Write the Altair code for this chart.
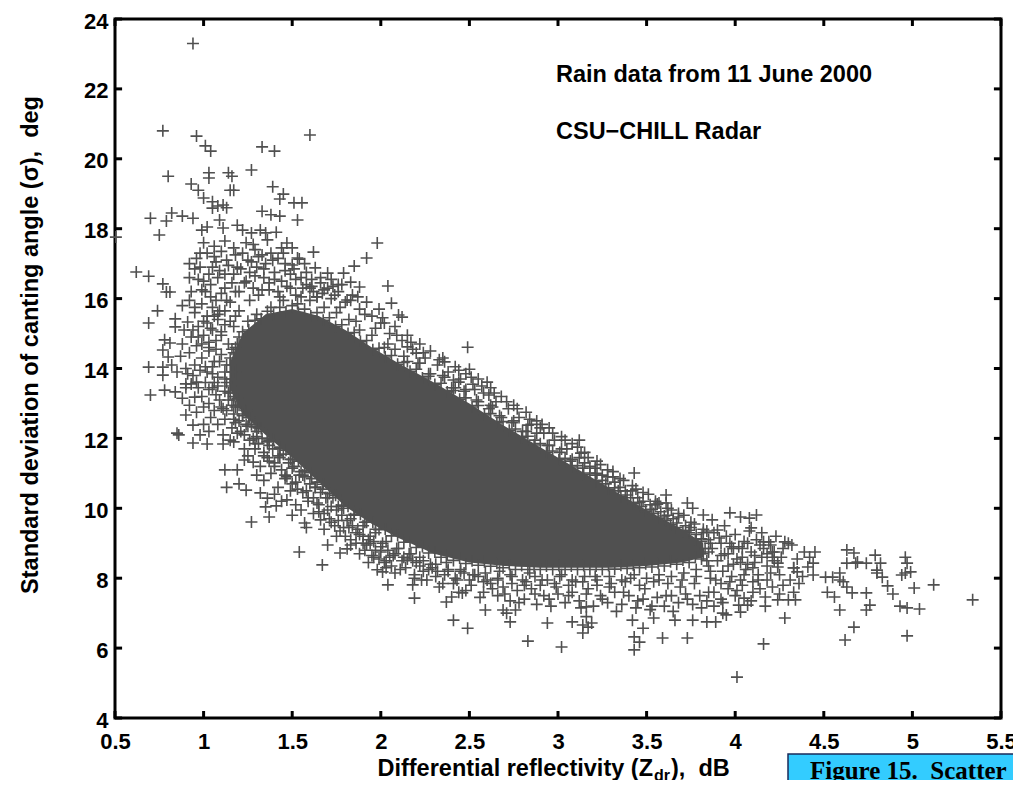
import altair as alt
import pandas as pd

# ---------------- data ----------------
x_ticks = [0.5, 1, 1.5, 2, 2.5, 3, 3.5, 4, 4.5, 5, 5.5]
y_ticks = [4, 6, 8, 10, 12, 14, 16, 18, 20, 22, 24]

NB = "\u00a0"
annotation_lines = ["Rain data from 11 June 2000", "CSU\u2212CHILL Radar"]
x_title_parts = ["Differential reflectivity (Z", "dr", ")," + NB + NB + "dB"]
y_title = "Standard deviation of canting angle (\u03c3)," + NB + NB + "deg"
caption = "Figure 15." + NB + NB + "Scatter"

# saturated core of the cloud (upper / lower edge of the solid region)
core_zdr = [1.15, 1.22, 1.35, 1.50, 1.65, 1.80, 1.95, 2.10, 2.30, 2.50, 2.70, 2.90, 3.10, 3.30,
            3.50, 3.70, 3.82]
core_hi = [14.2, 15.0, 15.55, 15.7, 15.5, 15.1, 14.6, 14.15, 13.6, 13.0, 12.35, 11.75, 11.15, 10.55,
           9.95, 9.4, 9.0]
core_lo = [13.4, 12.7, 12.1, 11.45, 10.75, 10.05, 9.55, 9.15, 8.7, 8.45, 8.35, 8.3, 8.3, 8.3,
           8.35, 8.45, 8.6]

outliers_top = [
    (0.94, 23.3), (0.77, 20.8), (0.96, 20.65), (1.01, 20.37), (1.04, 20.22), (1.33, 20.34), (1.40, 20.22),
    (1.60, 20.68), (0.80, 19.5), (1.03, 19.6), (1.03, 19.45), (1.14, 19.6), (1.16, 19.5), (1.27, 19.68),
    (0.93, 19.28), (0.97, 19.1), (1.15, 19.1), (1.17, 19.1), (1.39, 19.2), (1.45, 18.99), (1.43, 18.85),
    (1.51, 18.74), (1.555, 18.74), (1.0, 18.88), (1.05, 18.77), (1.05, 18.59), (1.08, 18.65), (1.11, 18.68),
    (1.13, 18.6), (0.70, 18.3), (0.79, 18.22), (0.82, 18.45), (0.88, 18.36), (0.94, 18.3), (0.75, 17.82),
    (0.505, 17.76), (1.33, 18.5), (1.38, 18.4), (1.43, 18.36), (1.53, 18.25), (1.62, 17.33), (1.09, 18.25),
    (1.11, 18.02), (1.02, 18.05), (0.99, 17.96), (1.19, 18.1), (1.22, 17.96), (1.27, 17.88), (1.32, 17.96),
    (1.35, 17.88), (1.41, 17.9), (1.36, 17.68), (1.47, 17.59), (1.50, 17.45), (1.53, 17.16), (1.98, 17.59),
    (1.92, 17.16), (1.85, 16.93), (1.79, 16.73), (1.70, 16.73), (1.63, 16.88), (1.54, 17.13), (1.50, 16.96),
    (2.04, 16.36), (2.06, 15.87), (2.10, 15.53), (2.0, 15.3), (1.83, 16.47), (1.88, 16.33), (1.87, 16.05),
    (1.81, 15.96), (2.12, 15.47), (2.49, 14.61), (2.50, 13.98), (2.60, 13.61), (2.61, 13.24), (2.53, 13.4),
    (2.15, 14.62), (2.20, 14.44), (2.36, 14.19), (2.41, 13.67), (2.44, 13.61), (2.63, 12.9), (2.83, 12.38),
    (2.90, 12.3), (3.12, 11.95), (3.13, 11.58), (3.21, 11.15), (3.31, 10.9), (3.43, 11.01), (3.61, 10.38),
    (3.61, 10.15), (3.56, 10.12), (3.73, 10.15), (3.76, 10.0), (3.82, 9.81), (3.87, 9.67), (3.90, 9.38),
]

outliers_left = [
    (0.62, 16.76), (0.69, 16.64), (0.77, 16.42), (0.79, 16.19), (0.81, 16.19), (0.74, 15.65), (0.69, 15.3),
    (0.84, 15.42), (0.84, 15.19), (0.91, 15.33), (0.94, 15.1), (0.78, 14.82), (0.81, 14.73), (0.77, 14.53),
    (0.80, 14.33), (0.82, 14.1), (0.69, 14.04), (0.77, 14.04), (0.77, 13.81), (0.78, 13.38), (0.84, 13.33),
    (0.70, 13.24), (0.90, 13.56), (0.93, 13.56), (0.96, 13.61), (0.95, 13.18), (0.90, 12.67), (0.94, 12.38),
    (0.85, 12.15), (0.86, 12.1), (0.94, 11.87), (1.02, 11.84), (1.11, 11.84), (1.17, 11.9), (1.12, 11.1),
    (1.19, 11.1), (1.13, 10.6), (1.2, 10.7), (1.24, 10.52), (1.23, 11.38), (1.28, 11.32), (1.27, 9.61),
    (1.37, 9.75), (1.35, 10.04), (1.41, 10.07), (1.54, 8.75), (1.32, 10.44), (1.36, 10.29), (1.47, 10.24),
    (1.57, 9.58), (1.66, 9.67), (1.70, 8.95), (1.77, 8.72), (1.81, 8.84), (1.67, 8.38), (1.98, 8.24),
    (2.01, 8.18),
]

outliers_low = [
    (2.04, 7.81), (2.18, 7.81), (2.19, 8.0), (2.19, 7.43), (2.37, 7.32), (2.40, 7.46), (2.44, 7.6),
    (2.46, 7.58), (2.41, 6.8), (2.49, 6.57), (2.59, 7.09), (2.71, 7.0), (2.76, 7.09), (2.73, 6.75),
    (2.69, 7.09), (2.83, 6.2), (3.02, 6.03), (2.94, 6.72), (3.08, 6.75), (3.14, 6.66), (3.17, 6.6),
    (3.14, 6.43), (3.19, 6.72), (3.16, 6.9), (3.16, 7.18), (3.43, 6.32), (3.46, 6.17), (3.43, 5.95),
    (3.48, 6.57), (3.42, 6.8), (3.54, 6.86), (3.59, 6.29), (3.73, 6.29), (3.66, 6.8), (3.76, 6.8),
    (3.84, 6.75), (3.89, 6.75), (4.16, 6.12), (4.28, 6.86), (4.01, 5.17), (4.03, 7.03), (4.07, 7.23),
]

right_tail = [
    (3.97, 9.87), (4.03, 9.75), (4.08, 9.72), (4.12, 9.81), (4.09, 9.44), (4.15, 9.3), (4.19, 9.04),
    (4.16, 9.04), (4.30, 9.0), (4.32, 8.95), (4.28, 9.04), (4.22, 8.75), (4.21, 8.6), (4.24, 8.43),
    (4.24, 8.32), (4.45, 8.75), (4.42, 8.6), (4.44, 8.43), (4.41, 8.32), (4.33, 8.3), (4.35, 8.18),
    (4.44, 8.09), (4.51, 8.03), (4.55, 8.03), (4.59, 8.15), (4.59, 7.95), (4.63, 8.81), (4.67, 8.72),
    (4.69, 8.46), (4.74, 8.43), (4.79, 8.66), (4.80, 8.23), (4.83, 8.03), (4.96, 8.6), (4.99, 8.18),
    (4.94, 8.09), (5.01, 7.72), (5.12, 7.81), (5.34, 7.38), (4.86, 7.78), (4.89, 7.55), (4.93, 7.2),
    (4.97, 7.15), (5.04, 7.12), (4.74, 7.58), (4.76, 7.23), (4.74, 7.09), (4.63, 7.75), (4.66, 7.58),
    (4.61, 7.9), (4.59, 7.09), (4.62, 6.23), (4.67, 6.6), (4.97, 6.35), (4.52, 7.6), (4.56, 7.46),
    (4.33, 7.6), (4.30, 7.38), (4.24, 7.38), (4.17, 7.46), (4.20, 8.15), (4.10, 7.6), (4.05, 7.43),
    (4.02, 7.23), (3.93, 7.0), (3.95, 6.95), (3.88, 7.2), (4.63, 8.43), (4.68, 8.43), (4.80, 8.15),
    (4.82, 8.43), (4.96, 8.15), (4.97, 8.43), (4.21, 8.75), (4.33, 8.29), (4.34, 7.38),
    (3.90, 8.5), (3.93, 8.2), (3.96, 8.7), (3.99, 8.4), (4.02, 8.9), (4.04, 8.6), (4.06, 8.25),
    (4.09, 8.75), (4.11, 8.45), (4.13, 8.1), (4.15, 8.6), (4.18, 8.35), (4.05, 9.05), (4.00, 9.25),
    (3.94, 9.5), (4.08, 9.35), (4.12, 9.1), (4.16, 8.85), (4.20, 8.95), (4.22, 8.5), (3.86, 8.0),
    (3.92, 7.85), (3.98, 8.05), (4.03, 7.95), (4.10, 7.9), (4.14, 7.7), (4.18, 7.95), (4.25, 8.1),
    (4.27, 7.8), (4.31, 7.95), (4.36, 7.85), (4.38, 8.05), (4.26, 8.6), (4.35, 8.55), (4.39, 8.75),
    (3.92, 8.65), (3.96, 8.35), (3.99, 8.85), (4.03, 8.45), (4.07, 9.0), (4.10, 8.3), (4.14, 8.95),
    (4.18, 8.7), (4.23, 9.2), (4.27, 8.85), (3.85, 8.75), (3.86, 9.0), (3.84, 8.5),
]

upper_texture = [
    (1.02, 17.3), (1.06, 17.2), (1.10, 17.35), (1.13, 17.1), (1.18, 17.25), (1.22, 17.3), (1.25, 17.1),
    (1.29, 17.4), (1.31, 17.2), (1.35, 17.0), (1.38, 17.3), (1.42, 17.15), (1.46, 17.0), (1.05, 16.9),
    (1.09, 16.8), (1.14, 16.95), (1.17, 16.7), (1.21, 16.85), (1.26, 16.75), (1.30, 16.9), (1.34, 16.6),
    (1.40, 16.75), (1.44, 16.5), (1.49, 16.7), (1.55, 16.6), (1.58, 16.4), (0.98, 16.9), (0.96, 17.15),
    (0.92, 16.6), (1.00, 16.5), (1.04, 16.4), (1.08, 16.6), (1.12, 16.3), (1.16, 16.45), (1.20, 16.2),
    (1.24, 16.5), (1.28, 16.3), (1.33, 16.25), (1.37, 16.45), (1.42, 16.2), (1.47, 16.35), (1.52, 16.1),
    (1.56, 16.3), (1.62, 16.2), (1.66, 16.45), (1.70, 16.3), (1.74, 16.1), (1.78, 16.4), (1.0, 17.6),
    (1.06, 17.5), (1.12, 17.65), (1.17, 17.45), (1.24, 17.6), (1.28, 17.55), (1.44, 17.45), (0.92, 17.0),
    (0.95, 16.85), (0.98, 17.3), (1.66, 16.6), (1.72, 16.55), (1.76, 16.4),
    (0.97, 14.9), (1.00, 15.35), (1.03, 14.6), (1.05, 15.1), (1.08, 15.55), (1.10, 14.95), (1.13, 15.95),
    (1.15, 15.35), (1.18, 16.2), (1.20, 15.65), (1.23, 16.45), (1.26, 15.95), (1.29, 16.65), (1.31, 16.1),
    (1.34, 16.85), (1.37, 16.25), (1.40, 16.55), (1.43, 16.05), (1.46, 16.8), (1.49, 16.3), (1.52, 16.55),
    (1.55, 16.05), (1.58, 16.75), (1.61, 16.35), (1.64, 16.05), (1.12, 16.7), (1.19, 16.9), (1.27, 17.05),
    (1.33, 17.25), (1.39, 17.1), (1.45, 17.3), (1.51, 16.85), (1.57, 17.0), (1.03, 16.7), (1.07, 17.05),
    (0.99, 16.25), (0.95, 15.75), (0.93, 16.2), (0.97, 16.55),
    (1.60, 16.3), (1.64, 16.05), (1.68, 16.25), (1.72, 16.0), (1.76, 16.2), (1.80, 15.9), (1.84, 16.1),
    (1.88, 15.7), (1.92, 15.9), (1.95, 15.5), (1.99, 15.7), (2.02, 15.3), (2.05, 15.0), (2.08, 15.2),
    (2.12, 14.8), (2.15, 14.95), (2.18, 14.55), (2.22, 14.7), (2.25, 14.3), (2.28, 14.5), (2.32, 14.1),
    (2.35, 14.3), (2.38, 13.9), (2.42, 14.05), (2.45, 13.7), (2.48, 13.85), (2.52, 13.55), (2.55, 13.7),
    (2.58, 13.3), (2.62, 13.45), (2.65, 13.05), (2.68, 13.2), (2.72, 12.85), (2.75, 12.95), (2.78, 12.6),
    (2.82, 12.75), (2.85, 12.4), (2.88, 12.5), (2.92, 12.15), (2.95, 12.3), (2.98, 11.95), (3.02, 12.05),
    (3.05, 11.7), (3.08, 11.85), (3.12, 11.45), (3.15, 11.6), (3.18, 11.2), (3.22, 11.35), (3.25, 10.95),
    (3.28, 11.1), (3.32, 10.75), (3.35, 10.85), (3.38, 10.5), (3.42, 10.65), (3.45, 10.3), (3.48, 10.45),
    (3.52, 10.1), (3.55, 10.2), (3.58, 9.9), (3.62, 10.0), (3.65, 9.7), (3.68, 9.85), (3.72, 9.5),
    (3.75, 9.6), (3.78, 9.25), (3.82, 9.4), (3.85, 9.1), (3.88, 9.3), (3.92, 9.0), (3.95, 9.2), (3.98, 8.9),
    (1.61, 16.55), (1.67, 16.15), (1.73, 16.35), (1.77, 15.75), (1.83, 15.95), (1.86, 15.35), (1.91, 15.55),
    (1.97, 15.15), (2.01, 15.45), (2.04, 14.7), (2.09, 14.95), (2.13, 14.35), (2.17, 14.75), (2.21, 14.15),
    (2.24, 14.45), (2.27, 13.85), (2.33, 14.25), (2.36, 13.75), (2.40, 13.45), (2.44, 13.95), (2.47, 13.35),
    (2.51, 13.75), (2.54, 13.1), (2.57, 13.5), (2.61, 12.85), (2.64, 13.3), (2.67, 12.65), (2.71, 13.05),
    (2.74, 12.45), (2.77, 12.85), (2.80, 12.2), (2.84, 12.55), (2.87, 11.95), (2.91, 12.4), (2.94, 11.8),
    (2.97, 12.15), (3.01, 11.6), (3.04, 11.95), (3.07, 11.35), (3.11, 11.75), (3.14, 11.15), (3.17, 11.45),
    (3.21, 10.95), (3.24, 11.25), (3.27, 10.7), (3.31, 11.05), (3.34, 10.5), (3.37, 10.8), (3.41, 10.3),
    (3.44, 10.55), (3.47, 10.05), (3.51, 10.4), (3.54, 9.85), (3.57, 10.15), (3.61, 9.65), (3.64, 9.95),
    (3.67, 9.45), (3.71, 9.8), (3.74, 9.3), (3.77, 9.55), (3.81, 9.05), (3.84, 9.35), (3.87, 8.85),
    (3.91, 9.15), (3.94, 8.7), (3.97, 9.0), (4.01, 8.55), (4.04, 8.85), (4.07, 8.4), (4.11, 8.65),
]

core_edge_upper = [
    (1.25, 15.35), (1.30, 15.55), (1.38, 15.75), (1.45, 15.95), (1.53, 15.85), (1.60, 15.95), (1.68, 15.75),
    (1.75, 15.6), (1.82, 15.4), (1.88, 15.1), (1.95, 14.95), (2.02, 14.6), (2.08, 14.55), (2.15, 14.2),
    (2.22, 14.15), (2.28, 13.85), (2.35, 13.8), (2.42, 13.45), (2.48, 13.4), (2.55, 13.05), (2.62, 12.95),
    (2.68, 12.6), (2.75, 12.5), (2.82, 12.2), (2.88, 12.15), (2.95, 11.8), (3.02, 11.7), (3.08, 11.4),
    (3.15, 11.3), (3.22, 11.0), (3.28, 10.9), (3.35, 10.6), (3.42, 10.5), (3.48, 10.2), (3.55, 10.1),
    (3.62, 9.8), (3.68, 9.75), (3.75, 9.45), (3.82, 9.3),
    (1.22, 15.05), (1.255, 15.1), (1.29, 15.38), (1.325, 15.42), (1.36, 15.64), (1.395, 15.55), (1.43, 15.75),
    (1.465, 15.62), (1.50, 15.8), (1.535, 15.6), (1.57, 15.7), (1.605, 15.5), (1.64, 15.6), (1.675, 15.38),
    (1.71, 15.45), (1.745, 15.2), (1.78, 15.25), (1.815, 15.0), (1.85, 15.03), (1.885, 14.77), (1.92, 14.8),
    (1.955, 14.54), (1.99, 14.58), (2.025, 14.33), (2.06, 14.37), (2.095, 14.12), (2.13, 14.17),
    (2.165, 13.92), (2.20, 13.98), (2.235, 13.73), (2.27, 13.78), (2.305, 13.54), (2.34, 13.58),
    (2.375, 13.33), (2.41, 13.37), (2.445, 13.12), (2.48, 13.16), (2.515, 12.9), (2.55, 12.94),
    (2.585, 12.67), (2.62, 12.71), (2.655, 12.45), (2.69, 12.48), (2.725, 12.23), (2.76, 12.27),
    (2.795, 12.02), (2.83, 12.06), (2.865, 11.81), (2.90, 11.85), (2.935, 11.6), (2.97, 11.64),
    (3.005, 11.39), (3.04, 11.43), (3.075, 11.18), (3.11, 11.22), (3.145, 10.97), (3.18, 11.01),
    (3.215, 10.76), (3.25, 10.8), (3.285, 10.55), (3.32, 10.59), (3.355, 10.34), (3.39, 10.38),
    (3.425, 10.13), (3.46, 10.17), (3.495, 9.92), (3.53, 9.97), (3.565, 9.72), (3.60, 9.78), (3.635, 9.53),
    (3.67, 9.58), (3.705, 9.33), (3.74, 9.37), (3.775, 9.1), (3.81, 9.13),
    (1.15, 13.5), (1.15, 13.7), (1.16, 13.9), (1.15, 14.1), (1.17, 14.45), (1.19, 14.7), (1.17, 13.1),
    (1.19, 12.9), (3.82, 8.7), (3.83, 8.85), (1.13, 13.6), (1.12, 13.9), (1.15, 14.3), (1.18, 14.6),
    (1.20, 14.9), (1.17, 13.2),
]

core_edge_lower = [
    (1.18, 12.9), (1.24, 12.4), (1.30, 12.05), (1.37, 11.8), (1.43, 11.45), (1.50, 11.15), (1.56, 10.95),
    (1.63, 10.6), (1.70, 10.3), (1.76, 10.05), (1.83, 9.7), (1.90, 9.5), (1.97, 9.3), (2.03, 9.05),
    (2.10, 8.85), (2.17, 8.7), (2.24, 8.5), (2.31, 8.4), (2.38, 8.25), (2.45, 8.2), (2.52, 8.1),
    (2.59, 8.15), (2.66, 8.0), (2.73, 8.1), (2.80, 7.95), (2.87, 8.05), (2.94, 7.95), (3.01, 8.05),
    (3.08, 7.95), (3.15, 8.05), (3.22, 7.95), (3.29, 8.05), (3.36, 7.95), (3.43, 8.1), (3.50, 8.0),
    (3.57, 8.1), (3.64, 8.05), (3.71, 8.15), (3.78, 8.25), (3.85, 8.35),
    (1.22, 12.65), (1.255, 12.6), (1.29, 12.33), (1.325, 12.28), (1.36, 12.0), (1.395, 11.96), (1.43, 11.7),
    (1.465, 11.66), (1.50, 11.4), (1.535, 11.35), (1.57, 11.07), (1.605, 11.02), (1.64, 10.75),
    (1.675, 10.69), (1.71, 10.42), (1.745, 10.37), (1.78, 10.09), (1.815, 10.06), (1.85, 9.83),
    (1.885, 9.83), (1.92, 9.6), (1.955, 9.6), (1.99, 9.39), (2.025, 9.41), (2.06, 9.21), (2.095, 9.22),
    (2.13, 9.03), (2.165, 9.06), (2.20, 8.88), (2.235, 8.91), (2.27, 8.72), (2.305, 8.75), (2.34, 8.6),
    (2.375, 8.67), (2.41, 8.51), (2.445, 8.58), (2.48, 8.42), (2.515, 8.5), (2.55, 8.37), (2.585, 8.47),
    (2.62, 8.34), (2.655, 8.43), (2.69, 8.3), (2.725, 8.4), (2.76, 8.25), (2.795, 8.36), (2.83, 8.25),
    (2.865, 8.35), (2.90, 8.25), (2.935, 8.35), (2.97, 8.25), (3.005, 8.36), (3.04, 8.25), (3.075, 8.35),
    (3.11, 8.25), (3.145, 8.36), (3.18, 8.25), (3.215, 8.35), (3.25, 8.25), (3.285, 8.36), (3.32, 8.26),
    (3.355, 8.37), (3.39, 8.28), (3.425, 8.38), (3.46, 8.3), (3.495, 8.41), (3.53, 8.32), (3.565, 8.43),
    (3.60, 8.35), (3.635, 8.47), (3.67, 8.4), (3.705, 8.52), (3.74, 8.45), (3.775, 8.6), (3.81, 8.55),
]

left_texture = [
    (0.88, 15.8), (0.92, 15.95), (0.95, 15.6), (0.99, 15.85), (1.02, 15.5), (1.05, 15.75), (1.08, 15.4),
    (1.12, 15.65), (1.15, 15.9), (1.18, 15.5), (0.97, 15.2), (1.00, 14.95), (1.04, 15.15), (1.07, 14.8),
    (1.10, 15.05), (1.14, 14.7), (1.17, 15.2), (0.88, 14.7), (0.92, 14.45), (0.96, 14.65), (0.99, 14.3),
    (1.03, 14.5), (1.06, 14.2), (1.10, 14.4), (1.13, 14.1), (1.16, 14.55), (0.85, 13.9), (0.90, 14.0),
    (0.94, 13.8), (0.98, 13.95), (1.01, 13.6), (1.05, 13.85), (1.08, 13.5), (1.12, 13.7), (1.15, 13.3),
    (1.18, 13.9), (0.99, 13.2), (1.03, 13.0), (1.07, 13.25), (1.10, 12.9), (1.14, 13.1), (1.17, 12.7),
    (1.04, 12.6), (1.08, 12.4), (1.12, 12.55), (1.16, 12.3), (1.20, 12.5), (1.11, 12.1), (1.15, 11.95),
    (1.19, 12.15), (1.23, 11.7), (1.26, 11.95),
    (1.01, 16.2), (1.04, 16.05), (1.07, 15.95), (1.10, 16.15), (1.02, 15.3), (1.06, 15.5), (1.09, 15.65),
    (1.12, 15.25), (1.03, 14.75), (1.07, 14.55), (1.05, 14.05), (1.09, 14.2), (1.03, 13.4), (1.06, 13.6),
    (1.09, 13.1), (1.12, 13.35), (1.16, 12.95), (1.19, 13.15), (1.22, 12.7), (1.00, 12.9), (1.06, 12.8),
    (1.13, 12.8), (1.18, 12.45), (1.21, 12.2), (1.25, 12.35), (1.28, 12.0), (1.31, 11.85), (1.34, 11.6),
    (1.37, 11.35), (1.40, 11.2), (1.44, 11.1), (1.47, 10.9), (1.50, 10.7), (1.53, 10.55), (1.56, 10.45),
    (1.59, 10.2), (1.62, 10.3), (1.65, 9.9), (1.68, 9.85), (1.71, 9.7), (1.74, 9.5), (1.77, 9.35),
    (1.80, 9.2), (1.83, 8.95), (1.86, 9.0), (1.91, 8.8), (1.95, 8.65), (1.99, 8.55), (2.02, 8.45),
    (2.06, 8.35), (1.24, 12.8), (1.27, 12.4), (1.30, 12.2), (1.33, 12.0), (1.36, 11.9), (1.39, 11.7),
    (1.42, 11.5), (1.45, 11.55), (1.48, 11.3), (1.51, 11.2), (1.54, 10.95), (1.57, 10.9), (1.60, 10.7),
    (1.63, 10.6), (1.66, 10.45), (1.69, 10.3), (1.72, 10.05), (1.75, 9.95), (1.78, 9.8), (1.81, 9.65),
    (1.84, 9.5), (1.87, 9.4), (1.90, 9.2), (1.93, 9.1), (1.96, 9.05), (2.0, 8.9), (2.04, 8.8),
    (2.08, 8.7), (2.13, 8.6), (2.18, 8.5), (2.22, 8.35), (2.27, 8.25), (2.32, 8.2), (2.36, 8.1),
    (1.02, 13.9), (1.05, 13.45), (1.08, 13.75), (1.11, 12.85), (1.14, 13.3), (1.17, 12.55), (1.20, 12.95),
    (1.23, 12.1), (1.26, 12.6), (1.29, 11.85), (1.31, 12.3), (1.34, 11.5), (1.37, 11.95), (1.40, 11.3),
    (1.43, 11.75), (1.46, 10.95), (1.49, 11.4), (1.52, 10.75), (1.55, 11.05), (1.58, 10.5), (1.61, 10.85),
    (1.64, 10.15), (1.67, 10.55), (1.70, 9.95), (1.73, 10.3), (1.76, 9.65), (1.79, 10.0), (1.82, 9.45),
    (1.85, 9.8), (1.88, 9.25), (1.91, 9.6), (1.94, 9.0), (1.97, 9.4),
    (0.87, 14.35), (0.89, 15.1), (0.91, 13.85), (0.93, 14.9), (0.95, 14.1), (0.97, 13.45), (0.99, 14.7),
    (1.01, 14.05), (0.88, 13.15), (0.92, 12.95), (0.96, 12.75), (1.0, 12.4), (1.03, 12.2), (0.98, 12.1),
    (0.90, 13.45),
]

lower_texture = [
    (1.25, 11.5), (1.29, 11.7), (1.32, 11.2), (1.36, 11.45), (1.30, 10.95), (1.34, 10.8), (1.38, 11.0),
    (1.42, 10.6), (1.46, 10.85), (1.40, 10.4), (1.44, 10.2), (1.49, 10.5), (1.52, 10.1), (1.55, 9.95),
    (1.50, 9.8), (1.59, 10.3), (1.62, 9.85), (1.65, 10.1), (1.58, 9.45), (1.68, 9.4), (1.72, 9.6),
    (1.75, 9.2), (1.79, 9.45), (1.83, 9.1), (1.86, 9.3), (1.90, 9.0), (1.94, 9.2), (1.88, 8.7),
    (1.97, 8.8), (2.01, 9.0), (2.05, 8.6), (2.09, 8.85), (2.12, 8.5), (2.16, 8.7), (1.93, 8.45),
    (2.03, 8.3), (2.08, 8.15), (2.14, 8.3), (2.20, 8.45), (2.24, 8.2), (2.28, 8.4), (2.23, 7.95),
    (2.31, 8.05), (2.35, 7.85), (2.38, 8.2), (2.43, 7.95), (2.47, 8.15), (2.51, 7.8), (2.55, 8.05),
    (2.58, 7.6), (2.62, 7.85), (2.66, 7.5), (2.69, 7.75), (2.73, 7.35), (2.77, 7.65), (2.81, 7.4),
    (2.85, 7.7), (2.88, 7.25), (2.92, 7.5), (2.96, 7.2), (3.0, 7.55), (3.04, 7.3), (3.08, 7.6),
    (3.12, 7.35), (3.16, 7.55), (3.2, 7.2), (3.24, 7.5), (3.28, 7.3), (3.32, 7.6), (3.36, 7.25),
    (3.40, 7.5), (3.44, 7.15), (3.48, 7.4), (3.52, 7.1), (3.56, 7.45), (3.60, 7.2), (3.64, 7.5),
    (3.68, 7.3), (3.72, 7.55), (3.76, 7.25), (3.80, 7.5), (3.84, 7.35), (3.88, 7.6), (3.92, 7.4),
    (3.96, 7.7), (4.0, 7.5), (4.04, 7.8),
    (2.42, 8.0), (2.50, 7.95), (2.58, 7.9), (2.66, 7.95), (2.74, 7.85), (2.82, 7.9), (2.90, 7.8),
    (2.98, 7.85), (3.06, 7.8), (3.14, 7.9), (3.22, 7.8), (3.30, 7.85), (3.38, 7.9), (3.46, 7.8),
    (3.54, 7.9), (3.62, 7.85), (3.70, 7.95), (3.78, 8.05), (3.86, 8.2),
    (1.92, 8.95), (1.96, 8.6), (2.00, 8.75), (2.03, 8.5), (2.07, 8.65), (2.11, 8.25), (2.15, 8.55),
    (2.19, 8.1), (2.22, 8.6), (2.26, 7.95), (2.29, 8.3), (2.33, 7.75), (2.37, 8.45), (2.41, 7.85),
    (2.45, 8.25), (2.48, 7.65), (2.53, 8.1), (2.56, 7.45), (2.60, 7.95), (2.63, 7.7), (2.67, 8.2),
    (2.70, 7.55), (2.74, 8.05), (2.78, 7.3), (2.81, 7.8), (2.84, 8.15), (2.87, 7.55), (2.91, 7.95),
    (2.95, 7.4), (2.99, 7.75), (3.02, 8.1), (3.06, 7.5), (3.10, 7.9), (3.13, 7.15), (3.17, 7.7),
    (3.21, 8.05), (3.25, 7.4), (3.29, 7.75), (3.33, 7.05), (3.37, 7.6), (3.41, 8.0), (3.45, 7.35),
    (3.49, 7.7), (3.53, 7.2), (3.57, 7.95), (3.61, 7.5), (3.65, 7.05), (3.69, 7.75), (3.73, 7.4),
    (3.77, 7.85), (3.81, 7.15), (3.85, 7.6), (3.89, 7.95), (3.93, 7.3), (3.97, 7.9), (4.01, 7.65),
    (4.05, 8.1), (4.09, 7.35), (4.13, 7.95), (4.17, 7.2), (4.21, 7.75), (4.25, 7.55),
]

# ---------------- tables ----------------
groups = [outliers_top, outliers_left, outliers_low, right_tail, upper_texture, core_edge_upper,
          core_edge_lower, left_texture, lower_texture]
pts = [p for g in groups for p in g]
df_pts = pd.DataFrame(pts, columns=["zdr", "sigma"])
df_core = pd.DataFrame({"zdr": core_zdr, "hi": core_hi, "lo": core_lo})
df_xt = pd.DataFrame({"zdr": x_ticks})
df_yt = pd.DataFrame({"sigma": y_ticks})
one = pd.DataFrame({"k": [0]})

W, H = 886, 699
GRAY = "#505050"
FONT = "Liberation Sans"

xs = alt.Scale(domain=[0.5, 5.5], nice=False, zero=False)
ys = alt.Scale(domain=[4, 24], nice=False, zero=False)

x_axis = alt.Axis(values=x_ticks, format="~g", title=None, grid=False, ticks=False, domain=False,
                  labelFont=FONT, labelFontWeight="bold", labelFontSize=22, labelColor="black",
                  labelPadding=13, labelFlush=False)
y_axis = alt.Axis(values=y_ticks, title=None, grid=False, ticks=False, domain=False,
                  labelFont=FONT, labelFontWeight="bold", labelFontSize=22, labelColor="black",
                  labelPadding=7, labelOffset=2)

core = alt.Chart(df_core).mark_area(color=GRAY, opacity=1, interpolate="linear").encode(
    x=alt.X("zdr:Q", scale=xs, axis=x_axis),
    y=alt.Y("hi:Q", scale=ys, axis=y_axis),
    y2="lo:Q",
)

points = alt.Chart(df_pts).mark_point(
    shape="M-1,0H1M0,-1V1", size=144, filled=False, stroke="#505050", strokeWidth=1.6, opacity=1
).encode(x=alt.X("zdr:Q", scale=xs), y=alt.Y("sigma:Q", scale=ys))

tick_style = dict(color="black", strokeWidth=3)
t_bottom = alt.Chart(df_xt).mark_rule(**tick_style).encode(
    x=alt.X("zdr:Q", scale=xs), y=alt.datum(4), y2=alt.datum(4.2))
t_top = alt.Chart(df_xt).mark_rule(**tick_style).encode(
    x=alt.X("zdr:Q", scale=xs), y=alt.datum(24), y2=alt.datum(23.8))
t_left = alt.Chart(df_yt).mark_rule(**tick_style).encode(
    y=alt.Y("sigma:Q", scale=ys), x=alt.datum(0.5), x2=alt.datum(0.54))
t_right = alt.Chart(df_yt).mark_rule(**tick_style).encode(
    y=alt.Y("sigma:Q", scale=ys), x=alt.datum(5.5), x2=alt.datum(5.46))

def label(text, x, y, size=23.5, align="left", angle=0, font=FONT, weight="bold"):
    return alt.Chart(one).mark_text(
        align=align, baseline="alphabetic", font=font, fontWeight=weight,
        fontSize=size, color="black", angle=angle
    ).encode(x=alt.value(x), y=alt.value(y), text=alt.value(text))

ann1 = label(annotation_lines[0], 441, 63)
ann2 = label(annotation_lines[1], 441, 120)

XT = 538  # anchor where "Z" ends (plot coords)
xt1 = label(x_title_parts[0], XT, 757, align="right")
xt2 = label(x_title_parts[1], XT + 1, 762, size=16)
xt3 = label(x_title_parts[2], XT + 18, 757)
yt = label(y_title, -77, 326, align="center", angle=270)

box = alt.Chart(one).mark_rect(fill="#33ccff", stroke="#1a2a5a", strokeWidth=1.5).encode(
    x=alt.value(673), x2=alt.value(930), y=alt.value(735), y2=alt.value(800))
cap = label(caption, 695, 760, size=25, font="Liberation Serif")

chart = alt.layer(
    core, points, t_bottom, t_top, t_left, t_right, ann1, ann2, xt1, xt2, xt3, yt, box, cap
).properties(
    width=W, height=H,
    autosize=alt.AutoSizeParams(type="none"),
    padding={"left": 107, "top": 11, "right": 12, "bottom": 62},
    background="white",
).configure_view(stroke="black", strokeWidth=3)

chart.save("out.html", embed_options={"renderer": "svg", "actions": False})
